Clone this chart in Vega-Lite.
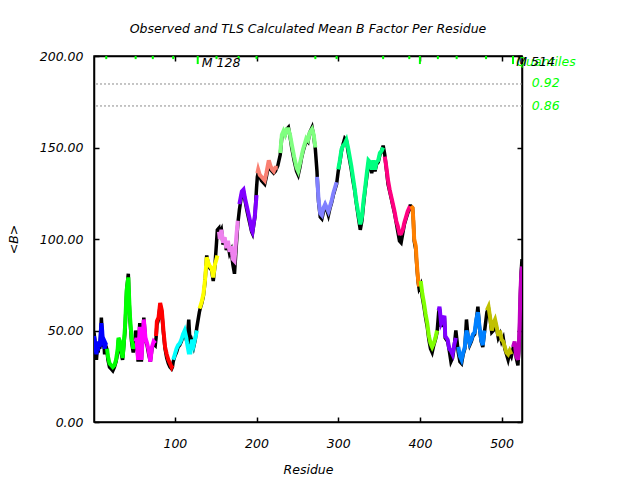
{
 "$schema": "https://vega.github.io/schema/vega-lite/v6.json",
 "width": 428,
 "height": 366,
 "autosize": "none",
 "padding": {"left": 94, "top": 56, "right": 118, "bottom": 58},
 "background": "white",
 "title": {"text": "Observed and TLS Calculated Mean B Factor Per Residue", "font": "DejaVu Sans", "fontStyle": "italic", "fontWeight": "normal", "fontSize": 12.5, "color": "black", "offset": 15, "anchor": "middle"},
 "config": {
  "view": {"stroke": "black", "strokeWidth": 1.5},
  "axis": {"labelFont": "DejaVu Sans", "labelFontStyle": "italic", "labelFontSize": 12.5, "labelColor": "black", "titleFont": "DejaVu Sans", "titleFontStyle": "italic", "titleFontWeight": "normal", "titleFontSize": 12.5, "titleColor": "black", "domainColor": "black", "tickColor": "black", "tickSize": -5, "grid": false, "domainWidth": 1.5, "tickWidth": 1.5, "labelFlush": false}
 },
 "datasets": {
  "b": [
   {"r":1,"t":47,"o":49,"s":"s01"},{"r":2,"t":44,"o":45,"s":"s01"},{"r":3,"t":40,"o":38,"s":"s01"},{"r":4,"t":37,"o":34,"s":"s01"},{"r":5,"t":42,"o":40,"s":"s01"},{"r":6,"t":39,"o":38,"s":"s01"},{"r":7,"t":44,"o":42,"s":"s01"},{"r":8,"t":41,"o":40,"s":"s01"},{"r":9,"t":47,"o":46,"s":"s01"},{"r":10,"t":54,"o":57,"s":"s01"},{"r":11,"t":50,"o":49,"s":"s01"},{"r":12,"t":42,"o":41,"s":"s01"},{"r":13,"t":45,"o":44,"s":"s01"},{"r":14,"t":40,"o":37,"s":"s01"},{"r":15,"t":43,"o":42,"s":"s01"},{"r":16,"t":42,"o":41,"s":"s01"},
   {"r":17,"t":40,"o":39,"s":"s02"},{"r":18,"t":36,"o":34,"s":"s02"},{"r":20,"t":32,"o":30,"s":"s02"},{"r":22,"t":31,"o":29,"s":"s02"},{"r":24,"t":30,"o":28,"s":"s02"},{"r":26,"t":31,"o":30,"s":"s02"},{"r":28,"t":34,"o":33,"s":"s02"},{"r":30,"t":40,"o":38,"s":"s02"},{"r":31,"t":46,"o":45,"s":"s02"},{"r":33,"t":44,"o":42,"s":"s02"},{"r":35,"t":38,"o":36,"s":"s02"},{"r":36,"t":35,"o":34,"s":"s02"},{"r":37,"t":40,"o":39,"s":"s02"},{"r":39,"t":52,"o":50,"s":"s02"},{"r":41,"t":72,"o":72,"s":"s02"},{"r":43,"t":79,"o":81,"s":"s02"},{"r":44,"t":68,"o":66,"s":"s02"},{"r":45,"t":58,"o":56,"s":"s02"},{"r":46,"t":52,"o":50,"s":"s02"},{"r":47,"t":46,"o":44,"s":"s02"},{"r":49,"t":40,"o":38,"s":"s02"},{"r":51,"t":43,"o":42,"s":"s02"},
   {"r":52,"t":44,"o":50,"s":"s03"},{"r":53,"t":46,"o":47,"s":"s03"},{"r":55,"t":34,"o":33,"s":"s03"},{"r":57,"t":52,"o":54,"s":"s03"},{"r":59,"t":34,"o":33,"s":"s03"},{"r":62,"t":56,"o":57,"s":"s03"},{"r":64,"t":46,"o":45,"s":"s03"},{"r":66,"t":43,"o":42,"s":"s03"},{"r":68,"t":39,"o":37,"s":"s03"},{"r":70,"t":33,"o":33,"s":"s03"},{"r":72,"t":41,"o":40,"s":"s03"},{"r":74,"t":44,"o":43,"s":"s03"},{"r":76,"t":43,"o":42,"s":"s03"},
   {"r":77,"t":47,"o":46,"s":"s04"},{"r":78,"t":55,"o":53,"s":"s04"},{"r":80,"t":57,"o":56,"s":"s04"},{"r":82,"t":65,"o":64,"s":"s04"},{"r":84,"t":61,"o":60,"s":"s04"},{"r":86,"t":50,"o":49,"s":"s04"},{"r":88,"t":41,"o":40,"s":"s04"},{"r":90,"t":37,"o":35,"s":"s04"},{"r":92,"t":34,"o":32,"s":"s04"},{"r":94,"t":32,"o":30,"s":"s04"},{"r":96,"t":30,"o":29,"s":"s04"},{"r":97,"t":31,"o":30,"s":"s04"},
   {"r":98,"t":34,"o":33,"s":"s05"},{"r":100,"t":37,"o":36,"s":"s05"},{"r":102,"t":40,"o":38,"s":"s05"},{"r":104,"t":42,"o":41,"s":"s05"},{"r":106,"t":43,"o":42,"s":"s05"},{"r":108,"t":45,"o":44,"s":"s05"},{"r":110,"t":48,"o":47,"s":"s05"},{"r":112,"t":50,"o":49,"s":"s05"},{"r":114,"t":46,"o":45,"s":"s05"},{"r":115,"t":43,"o":44,"s":"s05"},{"r":117,"t":38,"o":56,"s":"s05"},{"r":119,"t":38,"o":40,"s":"s05"},{"r":121,"t":45,"o":44,"s":"s05"},{"r":123,"t":42,"o":41,"s":"s05"},{"r":125,"t":46,"o":45,"s":"s05"},{"r":127,"t":50,"o":52,"s":"s05"},
   {"r":130,"t":62,"o":60,"s":"s06"},{"r":131,"t":63,"o":62,"s":"s06"},{"r":133,"t":66,"o":65,"s":"s06"},{"r":135,"t":70,"o":69,"s":"s06"},{"r":137,"t":78,"o":77,"s":"s06"},{"r":139,"t":90,"o":91,"s":"s06"},{"r":141,"t":87,"o":86,"s":"s06"},{"r":143,"t":85,"o":84,"s":"s06"},{"r":145,"t":84,"o":83,"s":"s06"},{"r":147,"t":79,"o":77,"s":"s06"},{"r":149,"t":86,"o":85,"s":"s06"},{"r":151,"t":89,"o":98,"s":"s06"},{"r":152,"t":91,"o":105,"s":"s06"},
   {"r":154,"t":104,"o":106,"s":"s07"},{"r":155,"t":100,"o":103,"s":"s07"},{"r":157,"t":105,"o":105,"s":"s07"},{"r":159,"t":98,"o":97,"s":"s07"},{"r":161,"t":101,"o":100,"s":"s07"},{"r":163,"t":95,"o":94,"s":"s07"},{"r":165,"t":99,"o":97,"s":"s07"},{"r":167,"t":93,"o":92,"s":"s07"},{"r":169,"t":96,"o":94,"s":"s07"},{"r":171,"t":89,"o":86,"s":"s07"},{"r":173,"t":88,"o":81,"s":"s07"},{"r":175,"t":100,"o":95,"s":"s07"},{"r":177,"t":110,"o":108,"s":"s07"},
   {"r":179,"t":119,"o":116,"s":"s08"},{"r":182,"t":126,"o":125,"s":"s08"},{"r":184,"t":127,"o":126,"s":"s08"},{"r":186,"t":122,"o":121,"s":"s08"},{"r":188,"t":118,"o":116,"s":"s08"},{"r":190,"t":114,"o":112,"s":"s08"},{"r":192,"t":110,"o":108,"s":"s08"},{"r":194,"t":105,"o":104,"s":"s08"},{"r":195,"t":104,"o":103,"s":"s08"},{"r":197,"t":110,"o":109,"s":"s08"},{"r":198,"t":113,"o":112,"s":"s08"},{"r":200,"t":124,"o":128,"s":"s08"},
   {"r":201,"t":136,"o":134,"s":"s09"},{"r":202,"t":138,"o":136,"s":"s09"},{"r":204,"t":135,"o":134,"s":"s09"},{"r":206,"t":134,"o":132,"s":"s09"},{"r":208,"t":133,"o":131,"s":"s09"},{"r":210,"t":132,"o":130,"s":"s09"},{"r":212,"t":136,"o":134,"s":"s09"},{"r":215,"t":143,"o":141,"s":"s09"},{"r":217,"t":140,"o":138,"s":"s09"},{"r":219,"t":138,"o":137,"s":"s09"},{"r":221,"t":137,"o":136,"s":"s09"},{"r":223,"t":139,"o":137,"s":"s09"},{"r":226,"t":139,"o":140,"s":"s09"},
   {"r":229,"t":147,"o":146,"s":"s10"},{"r":231,"t":157,"o":156,"s":"s10"},{"r":233,"t":159,"o":158,"s":"s10"},{"r":235,"t":157,"o":157,"s":"s10"},{"r":237,"t":160,"o":160,"s":"s10"},{"r":239,"t":160,"o":161,"s":"s10"},{"r":241,"t":157,"o":156,"s":"s10"},{"r":243,"t":152,"o":150,"s":"s10"},{"r":246,"t":145,"o":143,"s":"s10"},{"r":249,"t":139,"o":137,"s":"s10"},{"r":251,"t":137,"o":135,"s":"s10"},{"r":253,"t":141,"o":139,"s":"s10"},{"r":255,"t":145,"o":144,"s":"s10"},{"r":257,"t":149,"o":148,"s":"s10"},{"r":259,"t":152,"o":151,"s":"s10"},{"r":261,"t":155,"o":154,"s":"s10"},{"r":263,"t":154,"o":153,"s":"s10"},{"r":265,"t":158,"o":158,"s":"s10"},{"r":268,"t":160,"o":161,"s":"s10"},{"r":270,"t":157,"o":156,"s":"s10"},{"r":272,"t":150,"o":149,"s":"s10"},
   {"r":274,"t":134,"o":137,"s":"s11"},{"r":275,"t":128,"o":127,"s":"s11"},{"r":276,"t":121,"o":120,"s":"s11"},{"r":278,"t":114,"o":112,"s":"s11"},{"r":280,"t":113,"o":111,"s":"s11"},{"r":282,"t":117,"o":115,"s":"s11"},{"r":284,"t":119,"o":118,"s":"s11"},{"r":286,"t":117,"o":116,"s":"s11"},{"r":288,"t":115,"o":113,"s":"s11"},{"r":290,"t":118,"o":117,"s":"s11"},{"r":292,"t":121,"o":120,"s":"s11"},{"r":294,"t":125,"o":124,"s":"s11"},{"r":296,"t":128,"o":127,"s":"s11"},{"r":298,"t":131,"o":130,"s":"s11"},
   {"r":300,"t":138,"o":137,"s":"s12"},{"r":302,"t":143,"o":142,"s":"s12"},{"r":304,"t":149,"o":148,"s":"s12"},{"r":306,"t":151,"o":152,"s":"s12"},{"r":308,"t":152,"o":155,"s":"s12"},{"r":310,"t":154,"o":154,"s":"s12"},{"r":312,"t":150,"o":148,"s":"s12"},{"r":314,"t":145,"o":143,"s":"s12"},{"r":316,"t":140,"o":138,"s":"s12"},{"r":318,"t":134,"o":132,"s":"s12"},{"r":320,"t":128,"o":127,"s":"s12"},{"r":322,"t":121,"o":120,"s":"s12"},{"r":325,"t":113,"o":111,"s":"s12"},{"r":327,"t":108,"o":105,"s":"s12"},{"r":329,"t":112,"o":110,"s":"s12"},{"r":331,"t":121,"o":119,"s":"s12"},{"r":333,"t":128,"o":127,"s":"s12"},{"r":335,"t":136,"o":134,"s":"s12"},{"r":337,"t":143,"o":141,"s":"s12"},{"r":339,"t":142,"o":141,"s":"s12"},{"r":341,"t":138,"o":136,"s":"s12"},{"r":343,"t":143,"o":141,"s":"s12"},{"r":345,"t":138,"o":137,"s":"s12"},{"r":347,"t":142,"o":141,"s":"s12"},{"r":349,"t":143,"o":142,"s":"s12"},{"r":351,"t":147,"o":146,"s":"s12"},{"r":353,"t":148,"o":148,"s":"s12"},{"r":355,"t":150,"o":151,"s":"s12"},
   {"r":357,"t":145,"o":146,"s":"s13"},{"r":359,"t":139,"o":138,"s":"s13"},{"r":361,"t":132,"o":130,"s":"s13"},{"r":363,"t":127,"o":126,"s":"s13"},{"r":365,"t":123,"o":122,"s":"s13"},{"r":367,"t":119,"o":118,"s":"s13"},{"r":369,"t":115,"o":114,"s":"s13"},{"r":371,"t":110,"o":109,"s":"s13"},{"r":373,"t":107,"o":104,"s":"s13"},{"r":375,"t":103,"o":99,"s":"s13"},{"r":377,"t":103,"o":98,"s":"s13"},{"r":379,"t":105,"o":103,"s":"s13"},{"r":381,"t":109,"o":108,"s":"s13"},{"r":383,"t":112,"o":111,"s":"s13"},{"r":385,"t":115,"o":114,"s":"s13"},{"r":387,"t":117,"o":116,"s":"s13"},{"r":388,"t":118,"o":118,"s":"s13"},
   {"r":389,"t":118,"o":118,"s":"s14"},{"r":391,"t":117,"o":117,"s":"s14"},{"r":392,"t":110,"o":110,"s":"s14"},{"r":393,"t":100,"o":99,"s":"s14"},{"r":395,"t":96,"o":94,"s":"s14"},{"r":396,"t":88,"o":87,"s":"s14"},{"r":397,"t":82,"o":81,"s":"s14"},{"r":398,"t":77,"o":76,"s":"s14"},{"r":399,"t":74,"o":73,"s":"s14"},
   {"r":401,"t":77,"o":75,"s":"s15"},{"r":403,"t":70,"o":68,"s":"s15"},{"r":405,"t":65,"o":63,"s":"s15"},{"r":407,"t":59,"o":57,"s":"s15"},{"r":409,"t":54,"o":52,"s":"s15"},{"r":411,"t":47,"o":45,"s":"s15"},{"r":413,"t":43,"o":40,"s":"s15"},{"r":415,"t":41,"o":38,"s":"s15"},{"r":417,"t":43,"o":42,"s":"s15"},{"r":419,"t":46,"o":45,"s":"s15"},{"r":421,"t":50,"o":49,"s":"s15"},
   {"r":423,"t":61,"o":60,"s":"s16"},{"r":424,"t":63,"o":62,"s":"s16"},{"r":426,"t":54,"o":52,"s":"s16"},{"r":428,"t":56,"o":55,"s":"s16"},{"r":430,"t":58,"o":57,"s":"s16"},{"r":431,"t":47,"o":46,"s":"s16"},{"r":434,"t":45,"o":44,"s":"s16"},{"r":436,"t":40,"o":39,"s":"s16"},{"r":438,"t":39,"o":33,"s":"s16"},{"r":440,"t":37,"o":35,"s":"s16"},{"r":442,"t":42,"o":41,"s":"s16"},{"r":444,"t":46,"o":50,"s":"s16"},
   {"r":447,"t":41,"o":38,"s":"s17"},{"r":449,"t":36,"o":33,"s":"s17"},{"r":451,"t":34,"o":32,"s":"s17"},{"r":453,"t":38,"o":37,"s":"s17"},{"r":455,"t":41,"o":40,"s":"s17"},{"r":457,"t":50,"o":56,"s":"s17"},{"r":459,"t":47,"o":46,"s":"s17"},{"r":461,"t":43,"o":42,"s":"s17"},{"r":463,"t":45,"o":44,"s":"s17"},{"r":465,"t":48,"o":47,"s":"s17"},{"r":467,"t":49,"o":48,"s":"s17"},{"r":469,"t":56,"o":55,"s":"s17"},{"r":471,"t":60,"o":63,"s":"s17"},{"r":473,"t":52,"o":51,"s":"s17"},{"r":475,"t":45,"o":44,"s":"s17"},{"r":477,"t":42,"o":41,"s":"s17"},{"r":479,"t":50,"o":49,"s":"s17"},
   {"r":482,"t":61,"o":60,"s":"s18"},{"r":484,"t":63,"o":62,"s":"s18"},{"r":486,"t":57,"o":56,"s":"s18"},{"r":488,"t":50,"o":49,"s":"s18"},{"r":490,"t":54,"o":50,"s":"s18"},{"r":492,"t":56,"o":55,"s":"s18"},{"r":494,"t":52,"o":51,"s":"s18"},{"r":496,"t":47,"o":46,"s":"s18"},{"r":498,"t":50,"o":48,"s":"s18"},{"r":500,"t":45,"o":44,"s":"s18"},{"r":502,"t":44,"o":46,"s":"s18"},{"r":504,"t":41,"o":40,"s":"s18"},{"r":506,"t":38,"o":37,"s":"s18"},{"r":508,"t":37,"o":34,"s":"s18"},{"r":510,"t":39,"o":38,"s":"s18"},{"r":512,"t":37,"o":36,"s":"s18"},
   {"r":514,"t":41,"o":40,"s":"s19"},{"r":516,"t":44,"o":43,"s":"s19"},{"r":518,"t":36,"o":35,"s":"s19"},{"r":520,"t":34,"o":31,"s":"s19"},{"r":521,"t":40,"o":38,"s":"s19"},{"r":522,"t":52,"o":50,"s":"s19"},{"r":523,"t":70,"o":68,"s":"s19"},{"r":524,"t":80,"o":82,"s":"s19"},{"r":525,"t":85,"o":89,"s":"s19"}
  ],
  "ticks": [
   {"r":16,"long":false},{"r":52,"long":false},{"r":73,"long":false},{"r":98,"long":false},{"r":128,"long":true},{"r":151,"long":false},{"r":178,"long":false},{"r":200,"long":false},{"r":272,"long":false},{"r":298,"long":false},{"r":355,"long":false},{"r":387,"long":false},{"r":400,"long":true},{"r":422,"long":false},{"r":445,"long":false},{"r":481,"long":false},{"r":514,"long":true}
  ],
  "q": [{"q":"0.92","v":184.7},{"q":"0.86","v":172.7}],
  "blk": [{"label":"M 128","r":133,"v":196.3},{"label":"M 514","r":518,"v":196.6}],
  "grn": [{"label":"Quantiles","r":518,"v":196.9},{"label":"0.92","r":537,"v":185},{"label":"0.86","r":537,"v":172.7}]
 },
 "resolve": {"axis": {"x": "independent", "y": "independent"}},
 "layer": [
  {
   "data": {"name": "q"},
   "mark": {"type": "rule", "color": "#8c8c8c", "strokeWidth": 1, "strokeDash": [2, 2]},
   "encoding": {
    "y": {"field": "v", "type": "quantitative", "scale": {"domain": [0, 200], "nice": false, "zero": false}, "axis": null}
   }
  },
  {
   "data": {"name": "b"},
   "mark": {"type": "line", "color": "black", "strokeWidth": 3.5, "clip": true},
   "encoding": {
    "x": {"field": "r", "type": "quantitative", "scale": {"domain": [1, 525], "nice": false, "zero": false}, "axis": {"title": "Residue", "values": [100, 200, 300, 400, 500], "format": "d", "labelPadding": 20, "titlePadding": 14}},
    "y": {"field": "o", "type": "quantitative", "scale": {"domain": [0, 200], "nice": false, "zero": false}, "axis": {"title": "<B>", "values": [0, 50, 100, 150, 200], "format": ".2f", "labelPadding": 16, "titlePadding": 19}}
   }
  },
  {
   "data": {"name": "b"},
   "mark": {"type": "line", "strokeWidth": 4, "clip": true},
   "encoding": {
    "x": {"field": "r", "type": "quantitative", "axis": {"orient": "top", "labels": false, "title": null, "values": [100, 200, 300, 400, 500]}},
    "y": {"field": "t", "type": "quantitative", "axis": {"orient": "right", "labels": false, "title": null, "values": [0, 50, 100, 150, 200]}},
    "color": {"field": "s", "type": "nominal", "legend": null, "scale": {"domain": ["s01","s02","s03","s04","s05","s06","s07","s08","s09","s10","s11","s12","s13","s14","s15","s16","s17","s18","s19"], "range": ["#0000ff","#00ff00","#ff00ff","#ff0000","#00ffff","#ffff00","#ee82ee","#8000ff","#fa8072","#80ff80","#8080ff","#00ff80","#ff0080","#ff8000","#80ff00","#8000ff","#0080ff","#c0c000","#c000c0"]}}
   }
  },
  {
   "mark": {"type": "rule", "color": "#00ff00", "strokeWidth": 2, "yOffset": -1},
   "encoding": {"y": {"datum": 200, "type": "quantitative", "axis": null}}
  },
  {
   "data": {"name": "ticks"},
   "transform": [{"filter": "!datum.long"}],
   "mark": {"type": "rule", "color": "#00ff00", "strokeWidth": 2},
   "encoding": {
    "x": {"field": "r", "type": "quantitative", "axis": null},
    "y": {"datum": 200, "type": "quantitative", "axis": null},
    "y2": {"datum": 198.3}
   }
  },
  {
   "data": {"name": "ticks"},
   "transform": [{"filter": "datum.long"}],
   "mark": {"type": "rule", "color": "#00ff00", "strokeWidth": 2},
   "encoding": {
    "x": {"field": "r", "type": "quantitative", "axis": null},
    "y": {"datum": 200, "type": "quantitative", "axis": null},
    "y2": {"datum": 195.6}
   }
  },
  {
   "data": {"name": "grn"},
   "mark": {"type": "text", "align": "left", "baseline": "middle", "color": "#00ff00", "font": "DejaVu Sans", "fontStyle": "italic", "fontSize": 12.5},
   "encoding": {
    "x": {"field": "r", "type": "quantitative", "axis": null},
    "y": {"field": "v", "type": "quantitative", "axis": null},
    "text": {"field": "label"}
   }
  },
  {
   "data": {"name": "blk"},
   "mark": {"type": "text", "align": "left", "baseline": "middle", "color": "black", "font": "DejaVu Sans", "fontStyle": "italic", "fontSize": 12.5},
   "encoding": {
    "x": {"field": "r", "type": "quantitative", "axis": null},
    "y": {"field": "v", "type": "quantitative", "axis": null},
    "text": {"field": "label"}
   }
  }
 ]
}
